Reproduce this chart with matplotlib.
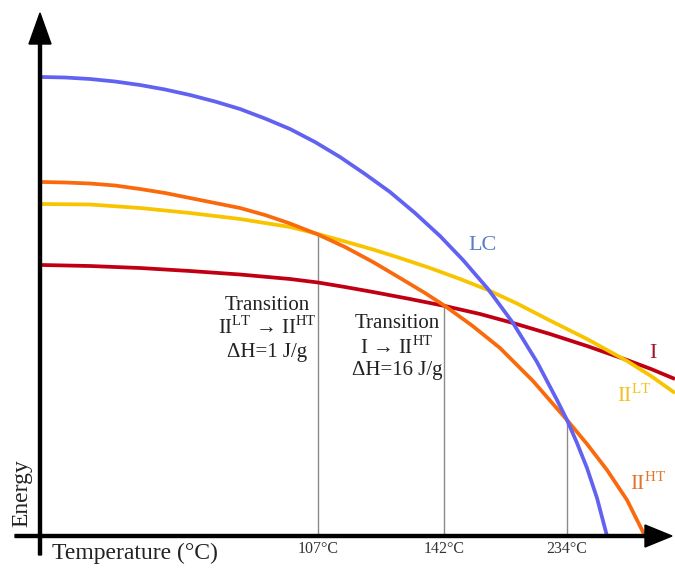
import matplotlib
matplotlib.use("Agg")
import matplotlib.pyplot as plt

plt.rcParams['font.family'] = ['Liberation Serif', 'DejaVu Serif']
plt.rcParams['mathtext.fontset'] = 'custom'
plt.rcParams['mathtext.rm'] = 'Liberation Serif'

# curvas de energia (unidades arbitrarias)
lc_x = [2, 25, 50, 75, 100, 125, 150, 175, 200, 225, 250, 275, 300, 325, 350, 375,
        400, 423, 448, 473, 497, 517, 527, 537, 547, 557, 567]
lc_y = [459, 458.5, 457, 454.5, 451, 446.5, 441, 434.5, 427, 417.5, 407, 394, 379, 362,
        344, 323, 300, 276, 247, 213, 174, 136, 116, 93, 68, 38, 0]

ht_x = [2, 25, 50, 75, 100, 125, 150, 175, 200, 225, 250, 278, 305, 333, 360, 385,
        405, 432, 460, 493, 527, 547, 567, 587, 605]
ht_y = [354, 353.5, 352.5, 350.5, 347, 343, 338, 333, 328, 321, 312.5, 301.5, 289,
        274, 258, 243, 230, 210.5, 188, 155, 116, 92, 66, 36, 0]

lt_x = [2, 50, 100, 150, 200, 250, 278, 305, 333, 360, 390, 420, 448, 478, 507, 547,
        587, 611, 635]
lt_y = [332, 331.5, 328, 323, 317, 309, 302, 294.5, 286.5, 278, 268, 257, 246, 232,
        217, 197, 175, 160, 143]

i_x = [2, 50, 100, 150, 200, 250, 278, 305, 333, 370, 405, 440, 473, 510, 547, 587,
       611, 635]
i_y = [271, 270, 268, 265, 261.5, 257, 253.5, 249, 244, 237, 230, 222, 213, 202, 190,
       176, 167, 157]

# transicoes
trans_x = [278, 404, 527]
trans_top = [302, 230, 116]
trans_lab = ["107°C", "142°C", "234°C"]

fig = plt.figure(figsize=(6.75, 5.68), dpi=100)
ax = fig.add_axes([0, 0, 1, 1])
ax.set_xlim(-40, 635)
ax.set_ylim(-32, 536)
ax.axis('off')

# linhas verticais das transicoes
for xv, top, lab in zip(trans_x, trans_top, trans_lab):
    ax.plot([xv, xv], [0, top], color='#8a8a8a', lw=1.0, zorder=1)
    ax.text(xv, -13, lab, ha='center', va='center', fontsize=11.5, color='#333333')

estilo = dict(lw=2.7, solid_capstyle='butt', solid_joinstyle='round', zorder=3)
ax.plot(i_x, i_y, color='#c00012', **estilo)
ax.plot(lt_x, lt_y, color='#f8c400', **estilo)
ax.plot(ht_x, ht_y, color='#fa6a0c', **estilo)
ax.plot(lc_x, lc_y, color='#6262f2', **estilo)

# eixos com setas
ax.arrow(-25, 0, 657, 0, width=3, head_width=22, head_length=27,
         length_includes_head=True, color='black', zorder=5)
ax.arrow(0, -19, 0, 542, width=3, head_width=22, head_length=31,
         length_includes_head=True, color='black', zorder=5)

ax.text(12, -17, "Temperature (°C)", ha='left', va='center', fontsize=17, color='#222222')
ax.text(-18, 9, "Energy", rotation=90, ha='center', va='bottom', fontsize=17, color='#222222')

# rotulos das curvas
ax.text(428, 291, "LC", ha='left', va='center', fontsize=16, color='#5a7ec6')
ax.text(613, 183, "I", ha='center', va='center', fontsize=16, color='#a3162a')
ax.text(577, 141, r"II$^{\mathrm{LT}}$", ha='left', va='center', fontsize=15.5, color='#f0c020')
ax.text(590, 53, r"II$^{\mathrm{HT}}$", ha='left', va='center', fontsize=15.5, color='#e0742a')

# textos das transicoes
t1 = ["Transition", r"II$^{\mathrm{LT}}$ → II$^{\mathrm{HT}}$", "ΔH=1 J/g"]
t1_y = [231, 208, 184]
for s, yy in zip(t1, t1_y):
    ax.text(227, yy, s, ha='center', va='center', fontsize=15, color='#222222')

t2 = ["Transition", r"I → II$^{\mathrm{HT}}$", "ΔH=16 J/g"]
t2_y = [212, 189, 165]
for s, yy in zip(t2, t2_y):
    ax.text(357, yy, s, ha='center', va='center', fontsize=15, color='#222222')

fig.savefig("out.png", dpi=100)
